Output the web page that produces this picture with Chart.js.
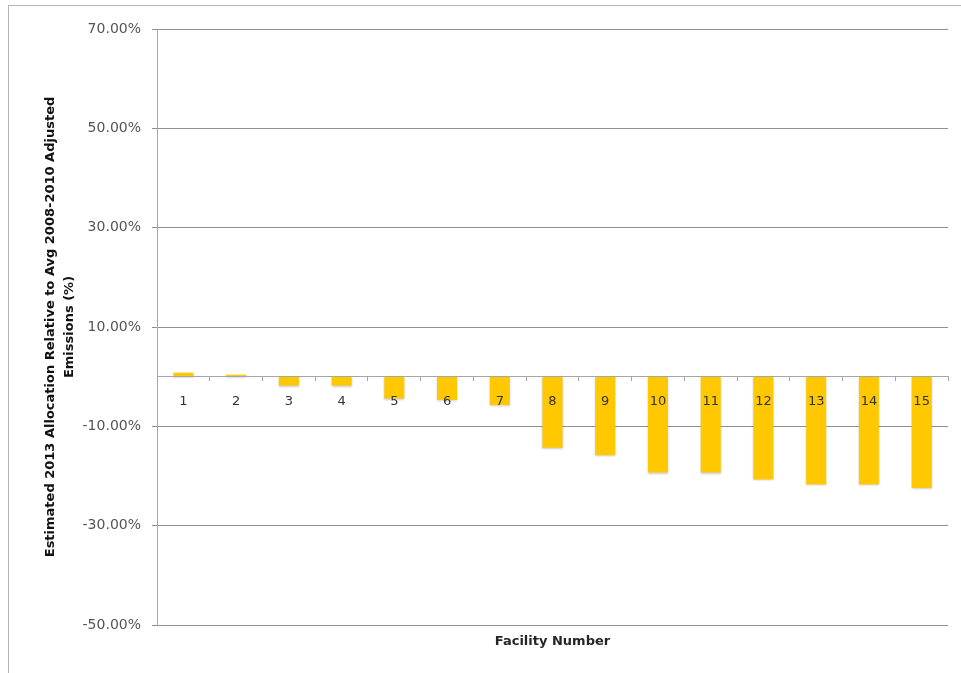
<!DOCTYPE html>
<html>
<head>
<meta charset="utf-8">
<script src="https://cdn.jsdelivr.net/npm/chart.js@4.4.1/dist/chart.umd.min.js"></script>
<style>
  html, body { margin: 0; padding: 0; background: #fff; overflow: hidden; }
  #frame {
    position: absolute; left: 8px; top: 5px;
    width: 1100px; height: 800px;
    border: 1px solid #b4b4b4;
  }
  #wrap { position: absolute; left: 0; top: 0; width: 961px; height: 673px; }
</style>
</head>
<body>
<div id="frame"></div>
<div id="wrap"><canvas id="chart" width="961" height="673"></canvas></div>
<script>
// Facility numbers and allocation change (%)
const facilities = ['1', '2', '3', '4', '5', '6', '7', '8', '9', '10', '11', '12', '13', '14', '15'];
const allocationPct = [0.8, 0.4, -1.8, -1.8, -4.4, -4.7, -5.7, -14.3, -15.8, -19.3, -19.3, -20.7, -21.7, -21.7, -22.4];
const yTicks = [-50, -30, -10, 10, 30, 50, 70];

const fontFamily = "'DejaVu Sans', sans-serif";

// soft shadow under the bars, like the spreadsheet original
const barShadow = {
  id: 'barShadow',
  beforeDatasetsDraw(chart) {
    const ctx = chart.ctx;
    ctx.save();
    ctx.shadowColor = 'rgba(0,0,0,0.2)';
    ctx.shadowBlur = 2;
    ctx.shadowOffsetX = 0;
    ctx.shadowOffsetY = 1;
  },
  afterDatasetsDraw(chart) {
    chart.ctx.restore();
  }
};

new Chart(document.getElementById('chart'), {
  type: 'bar',
  data: {
    labels: facilities,
    datasets: [{
      data: allocationPct,
      backgroundColor: '#FFC800',
      borderWidth: 0,
      categoryPercentage: 1,
      barPercentage: 0.38
    }]
  },
  options: {
    responsive: false,
    animation: false,
    layout: { padding: { left: 0, right: 13, top: 29, bottom: 0 } },
    plugins: {
      legend: { display: false },
      tooltip: { enabled: false }
    },
    scales: {
      x: {
        position: { y: 0 },
        offset: true,
        grid: {
          display: true,
          drawOnChartArea: false,
          drawTicks: true,
          tickLength: 4,
          color: '#a6a6a6',
          offset: true
        },
        border: { display: true, color: '#a6a6a6', width: 1, z: 1 },
        ticks: {
          z: 1,
          color: '#333333',
          padding: 13,
          maxRotation: 0,
          font: { family: fontFamily, size: 13 }
        }
      },
      x2: {
        type: 'category',
        labels: facilities,
        position: 'bottom',
        grid: { display: false, drawTicks: false },
        border: { display: false },
        ticks: { display: false },
        title: {
          display: true,
          text: 'Facility Number',
          color: '#262626',
          padding: { top: 4, bottom: 24 },
          font: { family: fontFamily, size: 13, weight: 'bold' }
        },
        afterFit(s) { s.height = 48; }
      },
      y: {
        min: -50,
        max: 70,
        afterBuildTicks(s) { s.ticks = yTicks.map(v => ({ value: v })); },
        grid: {
          color: '#8f8f8f',
          lineWidth: 1,
          drawTicks: true,
          tickLength: 5
        },
        border: { display: true, color: '#a6a6a6', width: 1 },
        ticks: {
          color: '#555555',
          padding: 11,
          font: { family: fontFamily, size: 14 },
          callback: v => v.toFixed(2) + '%'
        },
        title: {
          display: true,
          text: ['Estimated 2013 Allocation Relative to Avg 2008-2010 Adjusted', 'Emissions (%)'],
          color: '#111111',
          padding: { top: 41, bottom: 0 },
          font: { family: fontFamily, size: 13, weight: 'bold', lineHeight: 1.45 }
        },
        afterFit(s) { s.width = 157; }
      }
    }
  },
  plugins: [barShadow]
});
</script>
</body>
</html>
